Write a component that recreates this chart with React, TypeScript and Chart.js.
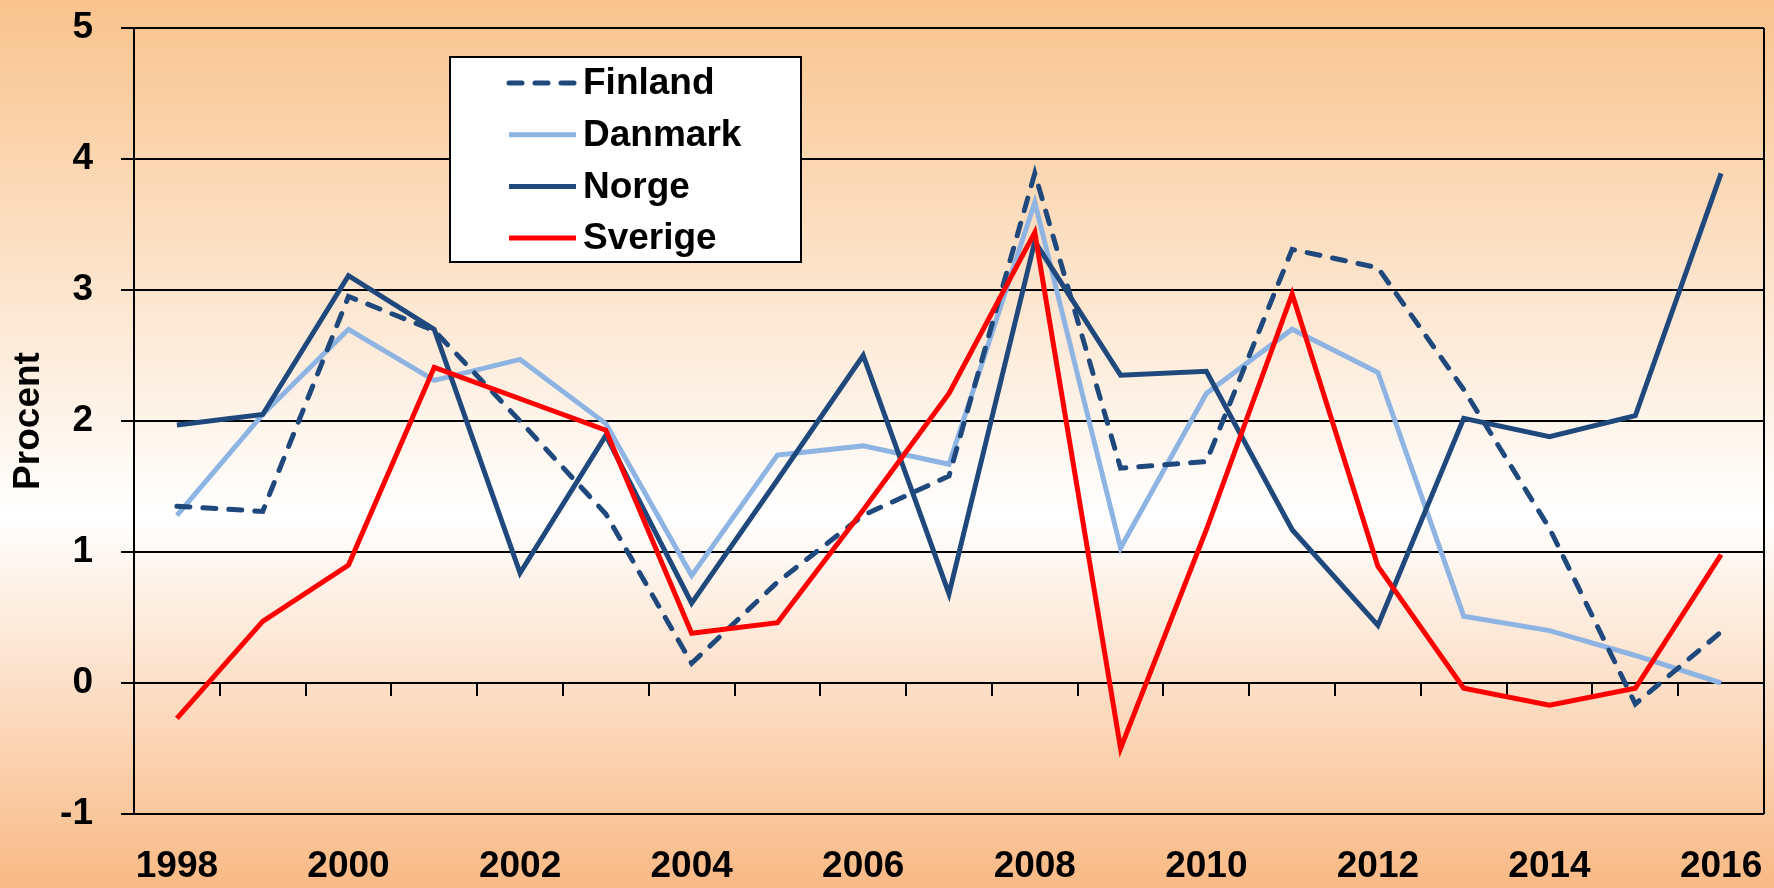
import { useEffect, useRef } from "react";
import { Chart, registerables } from "chart.js";

Chart.register(...registerables);

const years = [
  "1998", "1999", "2000", "2001", "2002", "2003", "2004", "2005", "2006", "2007",
  "2008", "2009", "2010", "2011", "2012", "2013", "2014", "2015", "2016",
];
const finland = [1.35, 1.31, 2.95, 2.69, 2.0, 1.29, 0.15, 0.77, 1.28, 1.58, 3.89, 1.64, 1.69, 3.31, 3.17, 2.24, 1.18, -0.16, 0.39];
const danmark = [1.28, 2.05, 2.7, 2.31, 2.47, 1.98, 0.82, 1.74, 1.81, 1.67, 3.67, 1.03, 2.21, 2.7, 2.37, 0.51, 0.4, 0.21, 0.0];
const norge = [1.97, 2.05, 3.11, 2.7, 0.84, 1.89, 0.61, 1.55, 2.5, 0.68, 3.37, 2.35, 2.38, 1.17, 0.44, 2.02, 1.88, 2.04, 3.89];
const sverige = [-0.27, 0.47, 0.9, 2.41, 2.17, 1.93, 0.38, 0.46, 1.32, 2.21, 3.44, -0.5, 1.17, 2.97, 0.89, -0.04, -0.17, -0.04, 0.98];
const yMin = -1;
const yMax = 5;
const yStep = 1;

const FONT = "'Liberation Sans', Arial, sans-serif";

const backgroundPlugin = {
  id: "bgGradient",
  beforeDraw(chart: any) {
    const { ctx, width, height } = chart;
    const g = ctx.createLinearGradient(0, 0, 0, height);
    g.addColorStop(0, "#F9C38D");
    g.addColorStop(0.58, "#FFFFFF");
    g.addColorStop(1, "#F9B984");
    ctx.save();
    ctx.fillStyle = g;
    ctx.fillRect(0, 0, width, height);
    ctx.restore();
  },
};

const framePlugin = {
  id: "frameAndZeroTicks",
  beforeDatasetsDraw(chart: any) {
    const { ctx, chartArea, scales } = chart;
    const xs = scales.x;
    const ys = scales.y;
    ctx.save();
    ctx.strokeStyle = "#000";
    ctx.lineWidth = 2;
    ctx.beginPath();
    ctx.moveTo(chartArea.right, chartArea.top);
    ctx.lineTo(chartArea.right, chartArea.bottom);
    ctx.stroke();
    const y0 = ys.getPixelForValue(0);
    ctx.beginPath();
    for (let i = 1; i < years.length; i++) {
      const x = (xs.getPixelForValue(i - 1) + xs.getPixelForValue(i)) / 2;
      ctx.moveTo(Math.round(x), y0);
      ctx.lineTo(Math.round(x), y0 + 13);
    }
    ctx.stroke();
    ctx.restore();
  },
};

const legendPlugin = {
  id: "boxLegend",
  afterDatasetsDraw(chart: any) {
    const { ctx } = chart;
    const box = { x: 450, y: 57, w: 351, h: 205 };
    ctx.save();
    ctx.fillStyle = "#FFFFFF";
    ctx.fillRect(box.x, box.y, box.w, box.h);
    ctx.lineWidth = 2;
    ctx.strokeStyle = "#000";
    ctx.strokeRect(box.x, box.y, box.w, box.h);
    [0, 1, 2, 3].forEach((i) => {
      const ds: any = chart.data.datasets[i];
      const cy = box.y + 26 + i * 51.7;
      ctx.beginPath();
      ctx.setLineDash(ds.borderDash || []);
      ctx.lineCap = ds.borderCapStyle || "butt";
      ctx.lineWidth = ds.borderWidth;
      ctx.strokeStyle = ds.borderColor;
      ctx.moveTo(509, cy);
      ctx.lineTo(576, cy);
      ctx.stroke();
      ctx.setLineDash([]);
      ctx.fillStyle = "#000";
      ctx.font = `bold 37px ${FONT}`;
      ctx.textBaseline = "middle";
      ctx.textAlign = "left";
      ctx.fillText(ds.label, 583, cy + 1);
    });
    ctx.restore();
  },
};

export default function App() {
  const ref = useRef<HTMLCanvasElement | null>(null);

  useEffect(() => {
    if (!ref.current) return;
    const chart = new Chart(ref.current, {
      type: "line",
      data: {
        labels: years,
        datasets: [
          {
            label: "Finland",
            data: finland,
            borderColor: "#1F497D",
            borderWidth: 5,
            borderDash: [13, 13],
            borderCapStyle: "round",
            pointRadius: 0,
            tension: 0,
            order: 2,
          },
          {
            label: "Danmark",
            data: danmark,
            borderColor: "#8DB4E2",
            borderWidth: 5,
            pointRadius: 0,
            tension: 0,
            order: 3,
          },
          {
            label: "Norge",
            data: norge,
            borderColor: "#1F497D",
            borderWidth: 5,
            pointRadius: 0,
            tension: 0,
            order: 1,
          },
          {
            label: "Sverige",
            data: sverige,
            borderColor: "#FF0000",
            borderWidth: 5,
            pointRadius: 0,
            tension: 0,
            order: 0,
          },
        ] as any,
      },
      options: {
        animation: false,
        responsive: false,
        maintainAspectRatio: false,
        layout: { padding: { top: 28, right: 10, left: 0, bottom: 0 } },
        plugins: {
          legend: { display: false },
          tooltip: { enabled: false },
        },
        scales: {
          x: {
            type: "category",
            offset: true,
            grid: { display: false, drawTicks: false },
            border: { display: false },
            ticks: {
              autoSkip: false,
              maxRotation: 0,
              minRotation: 0,
              padding: 31,
              color: "#000",
              font: { family: FONT, weight: "bold", size: 37 },
              callback: (_v: any, i: number) => (i % 2 === 0 ? years[i] : ""),
            },
            afterFit: (s: any) => {
              s.height = 74;
              s.paddingLeft = 0;
              s.paddingRight = 0;
            },
          },
          y: {
            min: yMin,
            max: yMax,
            ticks: {
              stepSize: yStep,
              padding: 28,
              color: "#000",
              font: { family: FONT, weight: "bold", size: 37 },
            },
            grid: {
              color: "#000",
              lineWidth: 2,
              drawTicks: true,
              tickLength: 13,
            },
            border: { display: true, color: "#000", width: 2 },
            title: {
              display: true,
              text: "Procent",
              color: "#000",
              font: { family: FONT, weight: "bold", size: 37, lineHeight: 1.2 },
              padding: { top: 7, bottom: 0 },
            },
            afterFit: (s: any) => {
              s.width = 134;
              s.paddingTop = 0;
              s.paddingBottom = 0;
            },
          },
        },
      } as any,
      plugins: [backgroundPlugin, framePlugin, legendPlugin],
    });
    return () => chart.destroy();
  }, []);

  return (
    <div style={{ position: "absolute", left: 0, top: 0, width: 1774, height: 888 }}>
      <canvas ref={ref} width={1774} height={888} style={{ width: 1774, height: 888, display: "block" }} />
    </div>
  );
}
